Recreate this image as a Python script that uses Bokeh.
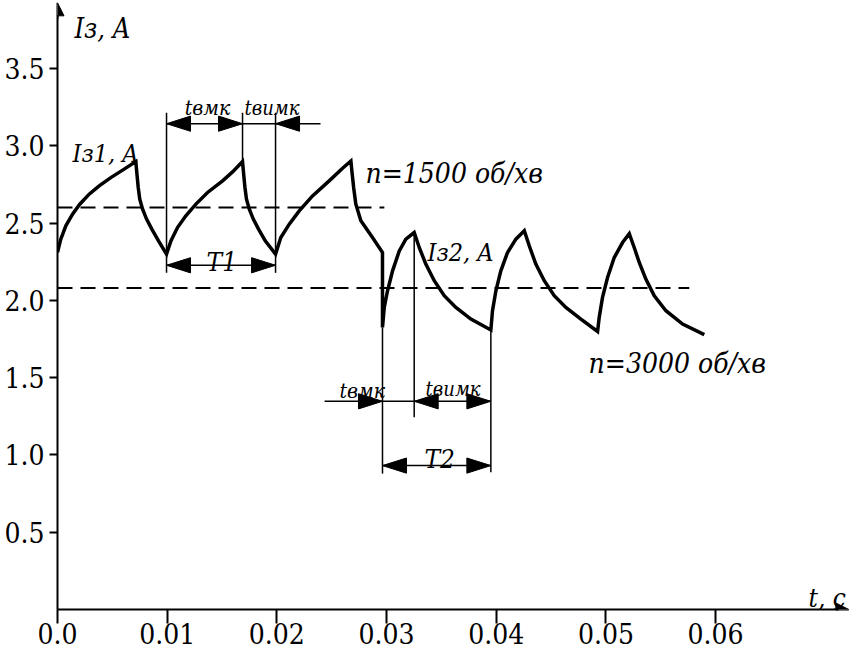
from bokeh.plotting import figure
from bokeh.models import (ColumnDataSource, FixedTicker, Arrow, NormalHead, Range1d,
                          CustomJSTickFormatter)
from bokeh.core.properties import value
from bokeh.embed import file_html
from bokeh.resources import INLINE

# ---------------- data ----------------
t_1500 = [0.00000, 0.00030, 0.00076, 0.00137, 0.00203, 0.00289, 0.00380, 0.00486, 0.00608, 0.00714,
          0.00723, 0.00736, 0.00750, 0.00775, 0.00812, 0.00860, 0.00921, 0.00994,
          0.01034, 0.01094, 0.01170, 0.01262, 0.01368, 0.01505, 0.01596, 0.01687,
          0.01696, 0.01709, 0.01723, 0.01748, 0.01785, 0.01833, 0.01894, 0.01988,
          0.02036, 0.02113, 0.02204, 0.02325, 0.02477, 0.02599, 0.02675,
          0.02685, 0.02700, 0.02720, 0.02766, 0.02872, 0.02963]
i_1500 = [2.310, 2.396, 2.482, 2.558, 2.622, 2.687, 2.741, 2.794, 2.849, 2.898,
          2.827, 2.730, 2.655, 2.591, 2.526, 2.461, 2.385, 2.299,
          2.385, 2.471, 2.547, 2.623, 2.698, 2.773, 2.831, 2.898,
          2.827, 2.730, 2.655, 2.591, 2.526, 2.461, 2.385, 2.299,
          2.407, 2.493, 2.579, 2.676, 2.773, 2.855, 2.902,
          2.830, 2.730, 2.622, 2.515, 2.406, 2.310]
t_3000 = [0.02963, 0.02979, 0.03009, 0.03055, 0.03116, 0.03176, 0.03252,
          0.03298, 0.03358, 0.03435, 0.03526, 0.03632, 0.03769, 0.03951,
          0.03966, 0.03997, 0.04042, 0.04103, 0.04179, 0.04256,
          0.04301, 0.04361, 0.04438, 0.04529, 0.04635, 0.04772, 0.04924,
          0.04939, 0.04969, 0.05015, 0.05076, 0.05152, 0.05213,
          0.05258, 0.05304, 0.05364, 0.05441, 0.05547, 0.05699, 0.05897]
i_3000 = [1.825, 1.954, 2.062, 2.191, 2.320, 2.396, 2.439,
          2.342, 2.235, 2.127, 2.030, 1.954, 1.879, 1.808,
          1.933, 2.062, 2.191, 2.310, 2.396, 2.450,
          2.353, 2.235, 2.127, 2.030, 1.954, 1.879, 1.799,
          1.890, 2.019, 2.148, 2.277, 2.374, 2.432,
          2.342, 2.245, 2.138, 2.030, 1.933, 1.847, 1.778]

mean_i = [2.60, 2.08]
mean_t_end = [0.0298, 0.0576]

vl_t = [0.00994, 0.01687, 0.01988, 0.02963, 0.03252, 0.03951]
vl_i0 = [2.178, 2.896, 2.178, 0.879, 1.243, 0.888]
vl_i1 = [3.213, 3.213, 3.213, 1.825, 2.439, 1.808]
seg_i = [3.143, 3.143, 3.143, 2.227, 1.347, 1.347, 1.347, 0.931]
seg_t0 = [0.00994, 0.01687, 0.01988, 0.00994, 0.02435, 0.02963, 0.03252, 0.02963]
seg_t1 = [0.01687, 0.01988, 0.02398, 0.01988, 0.02963, 0.03252, 0.03951, 0.03951]
head_t = [0.00994, 0.01687, 0.01988, 0.00994, 0.01988, 0.02963, 0.03252, 0.03951, 0.02963, 0.03951]
head_i = [3.143, 3.143, 3.143, 2.227, 2.227, 1.347, 1.347, 1.347, 0.931, 0.931]
head_dir = [-1, 1, -1, -1, 1, 1, -1, 1, -1, 1]

lab_text = ["Iз, A", "Iз1, A", "tвмк", "tвимк", "T1", "n=1500 об/хв",
            "Iз2, A", "n=3000 об/хв", "tвмк", "tвимк", "T2", "t, c"]
lab_t = [0.00155, 0.00137, 0.0116, 0.01705, 0.01359, 0.02808,
         0.03374, 0.04842, 0.02571, 0.03356, 0.03346, 0.06848]
lab_i = [3.762, 2.948, 3.245, 3.245, 2.246, 2.822,
         2.308, 1.590, 1.416, 1.429, 0.976, 0.075]
lab_size = ["27px", "25px", "21px", "20px", "26px", "28px",
            "25px", "28px", "21px", "20px", "26px", "26px"]

x_ticks = [0.0, 0.01, 0.02, 0.03, 0.04, 0.05, 0.06]
y_ticks = [0.5, 1.0, 1.5, 2.0, 2.5, 3.0, 3.5]

W, H = 850, 650
LEFT = 57
BOTTOM = 41
X_END = 0.0723
Y_END = 3.94

p = figure(width=W, height=H, x_range=Range1d(0, X_END), y_range=Range1d(0, Y_END),
           output_backend="svg", toolbar_location=None,
           min_border_left=LEFT, min_border_right=0, min_border_top=0, min_border_bottom=BOTTOM)
p.outline_line_color = None
p.grid.visible = False
p.background_fill_color = "white"
p.border_fill_color = "white"

FONT = "DejaVu Serif Condensed"
for ax in (p.xaxis[0], p.yaxis[0]):
    ax.axis_line_width = 2
    ax.axis_line_color = "black"
    ax.major_tick_line_width = 2
    ax.major_tick_line_color = "black"
    ax.major_tick_in = 0
    ax.minor_tick_line_color = None
    ax.major_label_text_font = FONT
    ax.major_label_text_font_size = "28px"
    ax.major_label_text_color = "black"

p.xaxis.ticker = FixedTicker(ticks=x_ticks)
p.xaxis.formatter = CustomJSTickFormatter(code="return tick == 0 ? '0.0' : tick.toFixed(2);")
p.xaxis.major_tick_out = 14
p.xaxis.major_label_standoff = -1
p.xaxis.major_label_text_line_height = 0.7
p.xaxis.bounds = (0, 0.0712)

p.yaxis.ticker = FixedTicker(ticks=y_ticks)
p.yaxis.formatter = CustomJSTickFormatter(code="return tick.toFixed(1);")
p.yaxis.major_tick_out = 8
p.yaxis.major_label_standoff = 5
p.yaxis.bounds = (0, 3.84)

p.add_layout(Arrow(end=NormalHead(size=13, fill_color="black", line_color="black", line_width=1),
                   x_start=0, y_start=3.82, x_end=0, y_end=3.925,
                   line_width=2, line_color="black"))
p.add_layout(Arrow(end=NormalHead(size=13, fill_color="black", line_color="black", line_width=1),
                   x_start=0.0708, y_start=0, x_end=0.07215, y_end=0,
                   line_width=2, line_color="black"))

p.segment(x0=[0, 0], y0=mean_i, x1=mean_t_end, y1=mean_i,
          line_color="black", line_width=2, line_dash="15 8")
p.line(t_1500 + t_3000, i_1500 + i_3000, line_color="black", line_width=3.5, line_join="miter")
p.segment(x0=vl_t, y0=vl_i0, x1=vl_t, y1=vl_i1, line_color="black", line_width=1.5)
p.segment(x0=seg_t0, y0=seg_i, x1=seg_t1, y1=seg_i, line_color="black", line_width=1.5)

PX_T = (W - LEFT) / X_END
PX_I = 601 / Y_END
HEAD_LEN, HEAD_HALF = 24, 7.5
xs, ys = [], []
for ht, hi, d in zip(head_t, head_i, head_dir):
    back = ht - d * HEAD_LEN / PX_T
    xs.append([ht, back, back])
    ys.append([hi, hi + HEAD_HALF / PX_I, hi - HEAD_HALF / PX_I])
p.patches(xs, ys, fill_color="black", line_color="black", line_width=1)

src = ColumnDataSource(dict(x=lab_t, y=lab_i, text=lab_text, size=lab_size))
p.text(x="x", y="y", text="text", source=src, text_font=value(FONT),
       text_font_style="italic", text_font_size="size", text_color="black",
       text_align="left", text_baseline="alphabetic")

open("out.html", "w").write(file_html(p, INLINE))
